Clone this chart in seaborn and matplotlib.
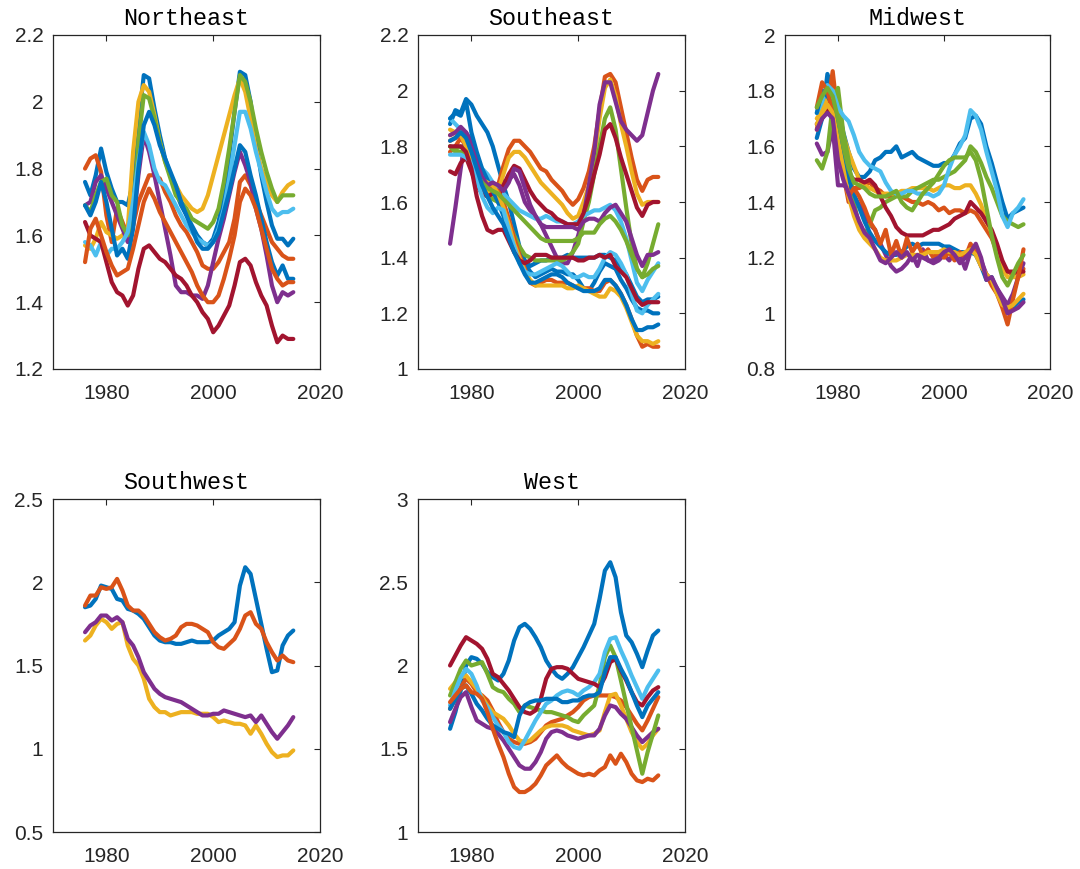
import matplotlib
matplotlib.use("Agg")
import matplotlib.pyplot as plt
import seaborn as sns
import pandas as pd
from matplotlib.ticker import FuncFormatter, FixedLocator

YEARS = list(range(1976, 2016))

BLUE = "#0072BD"; ORANGE = "#D95319"; YELLOW = "#EDB120"; PURPLE = "#7E2F8E"
GREEN = "#77AC30"; LBLUE = "#4DBEEE"; RED = "#A2142F"
COLOR_ORDER = [BLUE, ORANGE, YELLOW, PURPLE, GREEN, LBLUE, RED]

# ---------------- Northeast ----------------
NE_B1 = [1.76,1.72,1.78,1.86,1.79,1.74,1.70,1.70,1.69,1.76, 1.93,2.08,2.07,1.98,1.90,1.83,1.78,1.73,1.69,1.66,
         1.63,1.60,1.58,1.57,1.59,1.64,1.72,1.84,1.97,2.09, 2.08,2.00,1.88,1.78,1.70,1.63,1.59,1.59,1.57,1.59]
NE_O1 = [1.80,1.83,1.84,1.79,1.66,1.58,1.68,1.64,1.60,1.63, 1.70,1.74,1.78,1.78,1.77,1.73,1.70,1.66,1.63,1.61,
         1.58,1.55,1.51,1.50,1.50,1.52,1.55,1.58,1.65,1.76, 1.78,1.75,1.70,1.66,1.62,1.58,1.56,1.54,1.53,1.53]
NE_Y1 = [1.57,1.56,1.59,1.64,1.61,1.60,1.59,1.60,1.62,1.85, 2.00,2.05,2.03,1.96,1.88,1.82,1.78,1.75,1.72,1.70,
         1.68,1.67,1.68,1.72,1.78,1.84,1.90,1.96,2.02,2.07, 2.03,1.95,1.86,1.80,1.76,1.72,1.70,1.73,1.75,1.76]
NE_P1 = [1.69,1.70,1.76,1.78,1.74,1.70,1.66,1.62,1.58,1.63, 1.78,1.90,1.85,1.78,1.70,1.62,1.54,1.45,1.43,1.43,
         1.42,1.42,1.41,1.45,1.52,1.59,1.65,1.72,1.79,1.85, 1.81,1.76,1.68,1.62,1.54,1.45,1.40,1.43,1.42,1.43]
NE_G1 = [1.69,1.67,1.72,1.76,1.77,1.72,1.70,1.63,1.60,1.65, 1.88,2.02,2.01,1.95,1.88,1.82,1.77,1.72,1.70,1.68,
         1.65,1.64,1.63,1.62,1.64,1.68,1.76,1.86,1.97,2.08, 2.06,2.00,1.92,1.85,1.79,1.74,1.70,1.72,1.72,1.72]
NE_LB = [1.58,1.57,1.54,1.58,1.54,1.56,1.56,1.58,1.61,1.70, 1.82,1.91,1.87,1.80,1.76,1.75,1.72,1.69,1.66,1.63,
         1.61,1.59,1.58,1.57,1.58,1.62,1.68,1.77,1.87,1.97, 1.97,1.92,1.85,1.79,1.73,1.68,1.66,1.67,1.67,1.68]
NE_R1 = [1.64,1.60,1.59,1.58,1.52,1.46,1.43,1.42,1.39,1.42, 1.50,1.56,1.57,1.55,1.53,1.52,1.50,1.48,1.47,1.45,
         1.42,1.40,1.37,1.35,1.31,1.33,1.36,1.39,1.45,1.52, 1.53,1.51,1.46,1.42,1.39,1.33,1.28,1.30,1.29,1.29]
NE_B2 = [1.69,1.66,1.70,1.76,1.70,1.62,1.54,1.56,1.53,1.62, 1.80,1.93,1.97,1.93,1.87,1.83,1.79,1.75,1.70,1.66,
         1.62,1.58,1.56,1.56,1.58,1.61,1.67,1.73,1.80,1.87, 1.85,1.78,1.72,1.65,1.58,1.52,1.48,1.51,1.47,1.47]
NE_O2 = [1.52,1.62,1.65,1.60,1.55,1.51,1.48,1.49,1.50,1.56, 1.63,1.70,1.74,1.71,1.67,1.64,1.61,1.58,1.55,1.52,
         1.49,1.45,1.42,1.40,1.40,1.42,1.47,1.53,1.60,1.70, 1.74,1.72,1.68,1.62,1.56,1.50,1.47,1.45,1.46,1.46]

# ---------------- Southeast ----------------
SE_B1 = [1.88,1.93,1.92,1.97,1.95,1.91,1.88,1.85,1.80,1.73, 1.66,1.60,1.52,1.44,1.39,1.37,1.38,1.39,1.39,1.40,
         1.40,1.40,1.41,1.40,1.40,1.40,1.40,1.40,1.41,1.41, 1.40,1.39,1.37,1.34,1.30,1.26,1.24,1.25,1.25,1.26]
SE_O1 = [1.78,1.80,1.83,1.80,1.76,1.71,1.67,1.64,1.62,1.66, 1.73,1.79,1.82,1.82,1.80,1.78,1.75,1.72,1.71,1.68,
         1.66,1.64,1.61,1.59,1.61,1.65,1.71,1.80,1.93,2.05, 2.06,2.03,1.94,1.85,1.76,1.68,1.64,1.68,1.69,1.69]
SE_Y1 = [1.84,1.85,1.86,1.82,1.76,1.72,1.66,1.65,1.62,1.64, 1.70,1.76,1.78,1.78,1.76,1.73,1.70,1.67,1.65,1.63,
         1.61,1.59,1.56,1.54,1.55,1.60,1.66,1.76,1.90,2.01, 2.04,1.98,1.88,1.80,1.71,1.63,1.59,1.60,1.60,1.60]
SE_P1 = [1.45,1.58,1.72,1.85,1.82,1.74,1.66,1.65,1.66,1.66, 1.65,1.68,1.70,1.66,1.60,1.57,1.55,1.52,1.48,1.44,
         1.40,1.38,1.38,1.42,1.48,1.55,1.66,1.78,1.95,2.03, 2.03,1.96,1.89,1.86,1.84,1.82,1.84,1.92,2.00,2.06]
SE_G1 = [1.80,1.79,1.80,1.78,1.72,1.67,1.64,1.62,1.61,1.60, 1.57,1.53,1.48,1.44,1.41,1.40,1.39,1.39,1.39,1.39,
         1.39,1.39,1.40,1.42,1.45,1.53,1.60,1.70,1.80,1.90, 1.94,1.86,1.72,1.58,1.45,1.36,1.33,1.38,1.45,1.52]
SE_LB1 = [1.90,1.88,1.86,1.83,1.80,1.75,1.72,1.70,1.67,1.65, 1.63,1.61,1.59,1.57,1.56,1.55,1.54,1.54,1.55,1.54,
          1.53,1.53,1.52,1.52,1.53,1.55,1.56,1.57,1.57,1.58, 1.59,1.57,1.53,1.47,1.39,1.31,1.28,1.32,1.35,1.38]
SE_R1 = [1.71,1.70,1.74,1.76,1.71,1.66,1.63,1.62,1.63,1.62, 1.66,1.70,1.73,1.72,1.68,1.64,1.61,1.59,1.57,1.56,
         1.54,1.53,1.52,1.52,1.52,1.56,1.62,1.70,1.77,1.86, 1.88,1.83,1.76,1.70,1.64,1.58,1.55,1.59,1.60,1.60]
SE_B2 = [1.90,1.92,1.91,1.96,1.85,1.78,1.72,1.68,1.64,1.60, 1.55,1.48,1.43,1.40,1.38,1.35,1.33,1.34,1.35,1.36,
         1.35,1.35,1.34,1.34,1.32,1.29,1.28,1.31,1.35,1.38, 1.37,1.36,1.32,1.29,1.25,1.22,1.21,1.21,1.20,1.20]
SE_O2 = [1.82,1.83,1.85,1.83,1.78,1.73,1.68,1.66,1.65,1.64, 1.60,1.54,1.47,1.41,1.36,1.31,1.30,1.31,1.32,1.32,
         1.31,1.31,1.31,1.30,1.29,1.29,1.29,1.28,1.28,1.31, 1.32,1.30,1.27,1.23,1.18,1.12,1.08,1.09,1.08,1.08]
SE_Y2 = [1.86,1.85,1.84,1.80,1.76,1.72,1.68,1.67,1.66,1.63, 1.58,1.52,1.45,1.40,1.35,1.32,1.30,1.30,1.30,1.30,
         1.30,1.30,1.29,1.29,1.30,1.29,1.28,1.27,1.26,1.26, 1.29,1.28,1.26,1.22,1.17,1.12,1.10,1.10,1.09,1.10]
SE_P2 = [1.84,1.85,1.87,1.85,1.80,1.74,1.69,1.66,1.67,1.66, 1.64,1.67,1.72,1.71,1.65,1.59,1.55,1.52,1.51,1.51,
         1.51,1.51,1.51,1.51,1.50,1.53,1.54,1.54,1.53,1.56, 1.58,1.59,1.56,1.53,1.47,1.41,1.37,1.41,1.41,1.42]
SE_G2 = [1.80,1.78,1.78,1.77,1.73,1.70,1.67,1.65,1.64,1.63, 1.61,1.59,1.57,1.55,1.53,1.51,1.49,1.47,1.46,1.46,
         1.46,1.46,1.46,1.46,1.47,1.49,1.49,1.49,1.52,1.54, 1.55,1.53,1.50,1.46,1.41,1.36,1.33,1.34,1.36,1.37]
SE_LB2 = [1.77,1.77,1.77,1.76,1.74,1.68,1.62,1.58,1.56,1.58, 1.57,1.50,1.44,1.38,1.35,1.34,1.34,1.35,1.36,1.37,
          1.38,1.37,1.35,1.33,1.33,1.34,1.33,1.33,1.36,1.40, 1.42,1.41,1.38,1.34,1.27,1.21,1.20,1.23,1.25,1.27]
SE_R2 = [1.80,1.80,1.80,1.78,1.72,1.62,1.55,1.50,1.49,1.50, 1.50,1.46,1.42,1.39,1.38,1.39,1.41,1.41,1.41,1.40,
         1.40,1.40,1.40,1.40,1.39,1.39,1.40,1.40,1.41,1.40, 1.41,1.37,1.35,1.33,1.29,1.25,1.23,1.24,1.24,1.24]
SE_B3 = [1.82,1.83,1.85,1.83,1.78,1.72,1.66,1.62,1.58,1.55, 1.52,1.47,1.42,1.38,1.34,1.31,1.31,1.32,1.33,1.34,
         1.34,1.33,1.31,1.30,1.29,1.28,1.28,1.28,1.29,1.32, 1.32,1.30,1.27,1.23,1.18,1.14,1.14,1.15,1.15,1.16]

# ---------------- Midwest ----------------
MW_B1 = [1.63,1.70,1.86,1.80,1.74,1.65,1.58,1.52,1.49,1.49, 1.51,1.55,1.56,1.58,1.58,1.60,1.56,1.57,1.58,1.56,
         1.55,1.54,1.53,1.53,1.54,1.54,1.57,1.61,1.63,1.70, 1.71,1.68,1.60,1.54,1.47,1.40,1.34,1.36,1.37,1.38]
MW_O1 = [1.66,1.76,1.74,1.87,1.70,1.50,1.40,1.45,1.45,1.46, 1.47,1.45,1.44,1.42,1.42,1.43,1.42,1.41,1.40,1.40,
         1.39,1.40,1.39,1.37,1.38,1.36,1.37,1.37,1.36,1.37, 1.36,1.33,1.30,1.27,1.22,1.17,1.15,1.14,1.15,1.16]
MW_Y1 = [1.70,1.73,1.77,1.80,1.74,1.64,1.58,1.53,1.48,1.46, 1.45,1.44,1.43,1.43,1.43,1.43,1.44,1.44,1.45,1.45,
         1.45,1.45,1.44,1.45,1.46,1.46,1.45,1.45,1.46,1.46, 1.43,1.39,1.33,1.29,1.24,1.16,1.13,1.13,1.13,1.14]
MW_P1 = [1.61,1.57,1.58,1.67,1.46,1.46,1.45,1.42,1.39,1.36, 1.32,1.30,1.25,1.21,1.17,1.15,1.16,1.18,1.21,1.17,
         1.23,1.19,1.18,1.19,1.21,1.19,1.22,1.21,1.16,1.22, 1.24,1.19,1.14,1.12,1.09,1.06,1.03,1.07,1.13,1.18]
MW_G1 = [1.55,1.52,1.58,1.75,1.81,1.65,1.55,1.40,1.31,1.28, 1.32,1.37,1.38,1.40,1.41,1.42,1.42,1.42,1.44,1.45,
         1.46,1.47,1.48,1.48,1.49,1.50,1.51,1.53,1.55,1.60, 1.58,1.54,1.49,1.45,1.40,1.35,1.33,1.32,1.31,1.32]
MW_LB = [1.72,1.76,1.82,1.80,1.74,1.71,1.69,1.64,1.58,1.55, 1.53,1.52,1.51,1.47,1.44,1.43,1.43,1.44,1.44,1.43,
         1.43,1.43,1.42,1.43,1.46,1.52,1.57,1.60,1.64,1.73, 1.71,1.66,1.58,1.51,1.44,1.35,1.31,1.36,1.38,1.41]
MW_R1 = [1.68,1.70,1.73,1.71,1.62,1.55,1.50,1.48,1.48,1.47, 1.48,1.46,1.42,1.38,1.35,1.31,1.29,1.28,1.28,1.28,
         1.28,1.29,1.30,1.30,1.31,1.32,1.34,1.35,1.36,1.40, 1.38,1.36,1.33,1.30,1.25,1.19,1.15,1.15,1.15,1.15]
MW_B2 = [1.72,1.80,1.78,1.75,1.65,1.56,1.48,1.43,1.38,1.33, 1.29,1.26,1.24,1.22,1.21,1.21,1.22,1.24,1.25,1.24,
         1.25,1.25,1.25,1.25,1.24,1.24,1.23,1.22,1.22,1.22, 1.21,1.17,1.12,1.13,1.08,1.03,1.01,1.02,1.04,1.05]
MW_O2 = [1.74,1.83,1.80,1.72,1.60,1.50,1.42,1.45,1.42,1.38, 1.33,1.30,1.25,1.30,1.21,1.26,1.20,1.27,1.22,1.25,
         1.21,1.23,1.20,1.22,1.20,1.22,1.19,1.22,1.20,1.25, 1.22,1.17,1.14,1.10,1.07,1.02,0.96,1.05,1.13,1.23]
MW_Y2 = [1.68,1.72,1.75,1.72,1.62,1.52,1.42,1.35,1.30,1.27, 1.25,1.23,1.20,1.19,1.19,1.19,1.20,1.21,1.21,1.21,
         1.21,1.22,1.22,1.22,1.23,1.22,1.22,1.21,1.22,1.23, 1.21,1.17,1.14,1.12,1.07,1.03,1.02,1.03,1.05,1.07]
MW_P2 = [1.66,1.70,1.72,1.70,1.55,1.48,1.43,1.38,1.33,1.29, 1.27,1.23,1.19,1.18,1.20,1.22,1.20,1.22,1.19,1.21,
         1.20,1.19,1.19,1.20,1.22,1.23,1.21,1.18,1.20,1.22, 1.25,1.20,1.12,1.13,1.09,1.05,1.00,1.01,1.02,1.04]
MW_G2 = [1.74,1.78,1.81,1.78,1.70,1.60,1.52,1.47,1.46,1.45, 1.43,1.42,1.42,1.42,1.43,1.44,1.40,1.38,1.37,1.40,
         1.43,1.45,1.47,1.50,1.53,1.55,1.56,1.56,1.56,1.58, 1.55,1.48,1.38,1.28,1.20,1.13,1.10,1.14,1.18,1.21]

# ---------------- Southwest ----------------
SW_B1 = [1.85,1.86,1.90,1.98,1.97,1.96,1.90,1.89,1.84,1.83, 1.81,1.78,1.73,1.68,1.65,1.64,1.64,1.63,1.63,1.64,
         1.65,1.64,1.64,1.64,1.65,1.68,1.70,1.72,1.76,1.98, 2.09,2.05,1.90,1.75,1.60,1.46,1.47,1.62,1.68,1.71]
SW_O1 = [1.86,1.92,1.92,1.97,1.96,1.97,2.02,1.95,1.86,1.83, 1.83,1.80,1.75,1.70,1.67,1.65,1.66,1.68,1.73,1.75,
         1.75,1.74,1.72,1.70,1.64,1.61,1.60,1.63,1.66,1.72, 1.80,1.82,1.75,1.72,1.64,1.58,1.53,1.56,1.53,1.52]
SW_Y1 = [1.65,1.68,1.74,1.78,1.76,1.72,1.75,1.76,1.62,1.54, 1.50,1.42,1.30,1.25,1.22,1.22,1.20,1.21,1.22,1.22,
         1.22,1.21,1.21,1.21,1.19,1.16,1.17,1.16,1.15,1.15, 1.14,1.09,1.14,1.09,1.03,0.98,0.95,0.96,0.96,0.99]
SW_P1 = [1.70,1.74,1.76,1.80,1.80,1.77,1.79,1.76,1.66,1.62, 1.55,1.46,1.41,1.36,1.33,1.31,1.30,1.29,1.28,1.26,
         1.24,1.22,1.20,1.20,1.21,1.21,1.23,1.22,1.21,1.20, 1.19,1.20,1.16,1.20,1.15,1.10,1.06,1.10,1.14,1.19]

# ---------------- West ----------------
W_B1 = [1.62,1.72,1.85,2.00,2.05,2.04,2.01,1.96,1.93,1.91, 1.95,2.03,2.15,2.23,2.25,2.22,2.17,2.11,2.03,1.98,
        1.94,1.92,1.95,1.99,2.05,2.11,2.18,2.25,2.40,2.57, 2.62,2.53,2.32,2.18,2.14,2.07,1.99,2.09,2.18,2.21]
W_O1 = [1.74,1.80,1.87,1.92,1.89,1.84,1.82,1.79,1.73,1.66, 1.60,1.56,1.54,1.53,1.53,1.54,1.56,1.60,1.64,1.66,
        1.67,1.68,1.70,1.72,1.75,1.79,1.81,1.82,1.82,1.82, 1.82,1.81,1.79,1.75,1.70,1.65,1.61,1.67,1.74,1.81]
W_Y1 = [1.86,1.90,1.93,1.94,1.90,1.86,1.81,1.76,1.72,1.70, 1.68,1.64,1.59,1.55,1.54,1.55,1.58,1.61,1.63,1.64,
        1.64,1.64,1.63,1.61,1.60,1.59,1.58,1.59,1.61,1.72, 1.82,1.83,1.76,1.68,1.60,1.54,1.50,1.53,1.58,1.62]
W_P1 = [1.66,1.74,1.81,1.84,1.75,1.67,1.65,1.63,1.62,1.59, 1.55,1.50,1.45,1.40,1.38,1.38,1.42,1.48,1.56,1.60,
        1.61,1.60,1.58,1.57,1.56,1.57,1.58,1.58,1.62,1.70, 1.76,1.75,1.71,1.68,1.63,1.58,1.54,1.57,1.60,1.62]
W_G1 = [1.82,1.90,1.98,2.03,2.00,2.01,2.02,1.95,1.87,1.85, 1.84,1.80,1.77,1.72,1.76,1.75,1.74,1.73,1.72,1.72,
        1.71,1.70,1.69,1.67,1.66,1.70,1.73,1.76,1.88,2.05, 2.12,2.05,1.91,1.77,1.63,1.49,1.35,1.48,1.59,1.70]
W_LB = [1.76,1.85,1.93,1.98,1.95,1.88,1.79,1.75,1.69,1.64, 1.60,1.54,1.51,1.50,1.55,1.61,1.67,1.72,1.77,1.79,
        1.82,1.84,1.85,1.84,1.82,1.85,1.87,1.90,1.95,2.08, 2.16,2.17,2.09,2.02,1.94,1.87,1.80,1.87,1.92,1.97]
W_R1 = [2.00,2.06,2.12,2.17,2.15,2.13,2.10,2.04,1.95,1.93, 1.89,1.85,1.80,1.75,1.72,1.71,1.73,1.80,1.92,1.98,
        1.99,1.99,1.98,1.95,1.92,1.91,1.90,1.89,1.87,1.93, 2.02,2.04,1.97,1.91,1.84,1.78,1.76,1.81,1.85,1.87]
W_B2 = [1.74,1.80,1.86,1.88,1.83,1.77,1.73,1.68,1.64,1.62, 1.60,1.59,1.57,1.70,1.76,1.78,1.79,1.79,1.80,1.80,
        1.80,1.78,1.78,1.79,1.79,1.81,1.82,1.82,1.84,1.96, 2.05,2.05,1.98,1.92,1.84,1.76,1.69,1.76,1.80,1.84]
W_O2 = [1.78,1.82,1.86,1.88,1.84,1.83,1.80,1.72,1.62,1.53, 1.45,1.35,1.27,1.24,1.24,1.26,1.29,1.34,1.40,1.43,
        1.46,1.42,1.39,1.37,1.35,1.34,1.35,1.34,1.37,1.39, 1.46,1.41,1.47,1.42,1.35,1.31,1.30,1.32,1.31,1.34]

PANELS = [
    ("Northeast", [NE_B1, NE_O1, NE_Y1, NE_P1, NE_G1, NE_LB, NE_R1, NE_B2, NE_O2],
     (1.2, 2.2), [1.2, 1.4, 1.6, 1.8, 2.0, 2.2]),
    ("Southeast", [SE_B1, SE_O1, SE_Y1, SE_P1, SE_G1, SE_LB1, SE_R1, SE_B2, SE_O2, SE_Y2,
                   SE_P2, SE_G2, SE_LB2, SE_R2, SE_B3],
     (1.0, 2.2), [1.0, 1.2, 1.4, 1.6, 1.8, 2.0, 2.2]),
    ("Midwest", [MW_B1, MW_O1, MW_Y1, MW_P1, MW_G1, MW_LB, MW_R1, MW_B2, MW_O2, MW_Y2, MW_P2, MW_G2],
     (0.8, 2.0), [0.8, 1.0, 1.2, 1.4, 1.6, 1.8, 2.0]),
    ("Southwest", [SW_B1, SW_O1, SW_Y1, SW_P1],
     (0.5, 2.5), [0.5, 1.0, 1.5, 2.0, 2.5]),
    ("West", [W_B1, W_O1, W_Y1, W_P1, W_G1, W_LB, W_R1, W_B2, W_O2],
     (1.0, 3.0), [1.0, 1.5, 2.0, 2.5, 3.0]),
]
X_TICKS = [1980, 2000, 2020]

sns.set_style("white")
plt.rcParams["font.family"] = ["Liberation Sans", "DejaVu Sans"]

W, H = 1080, 869
fig = plt.figure(figsize=(W / 100, H / 100), dpi=100)

RECTS = [
    (53, 35, 267, 334), (418, 35, 267, 334), (785, 35, 265, 334),
    (53, 499, 267, 333), (418, 499, 267, 333),
]
DARK = "#262626"

for (title, series, ylim, yticks), (px, py, pw, ph) in zip(PANELS, RECTS):
    ax = fig.add_axes([px / W, 1 - (py + ph) / H, pw / W, ph / H])
    rows = []
    names = []
    for i, vals in enumerate(series):
        name = f"s{i}"
        names.append(name)
        for yr, v in zip(YEARS, vals):
            rows.append((yr, v, name))
    df = pd.DataFrame(rows, columns=["year", "value", "series"])
    palette = {n: COLOR_ORDER[i % len(COLOR_ORDER)] for i, n in enumerate(names)}
    sns.lineplot(data=df, x="year", y="value", hue="series", hue_order=names,
                 palette=palette, estimator=None, legend=False, linewidth=3.0,
                 ax=ax, solid_joinstyle="round")
    ax.set_xlim(1970, 2020)
    ax.set_ylim(*ylim)
    ax.xaxis.set_major_locator(FixedLocator(X_TICKS))
    ax.yaxis.set_major_locator(FixedLocator(yticks))
    ax.yaxis.set_major_formatter(FuncFormatter(lambda v, p: f"{v:g}"))
    ax.set_xlabel("")
    ax.set_ylabel("")
    ax.tick_params(direction="in", length=4, width=0.8, top=True, right=True,
                   colors=DARK, labelsize=15, pad=7)
    ax.tick_params(axis="x", pad=11)
    for s in ax.spines.values():
        s.set_color(DARK)
        s.set_linewidth(0.9)
    ax.set_title(title, family=["Liberation Mono", "DejaVu Sans Mono"], fontsize=16.8,
                 color="black", pad=7)

fig.savefig("out.png", dpi=100)
